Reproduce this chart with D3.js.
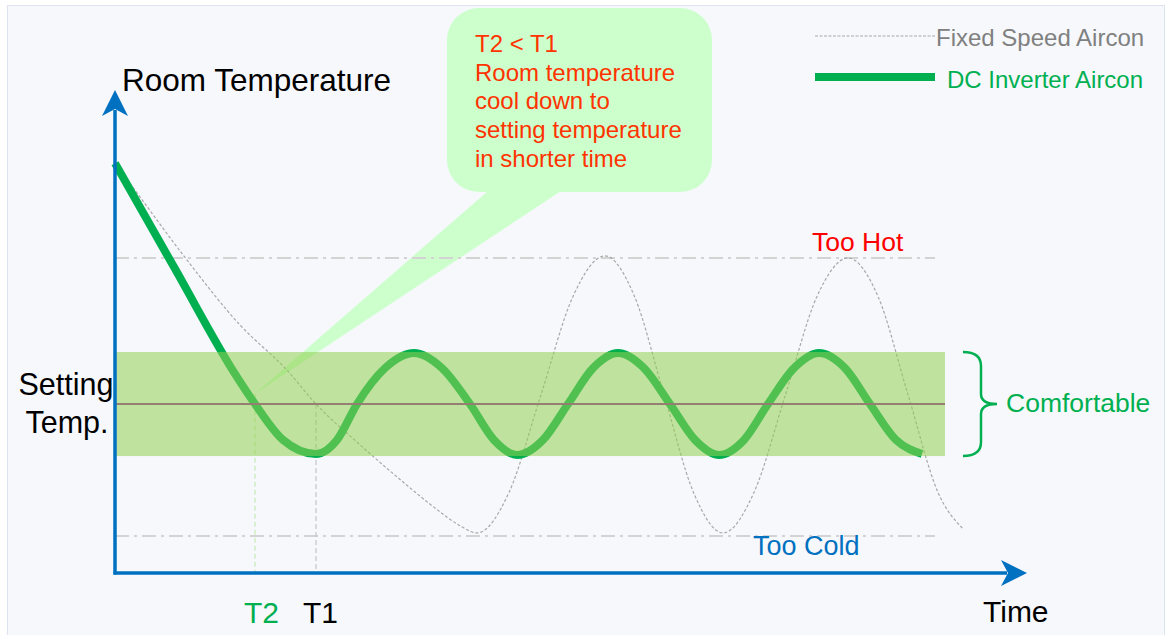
<!DOCTYPE html>
<html>
<head>
<meta charset="utf-8">
<script src="https://cdn.jsdelivr.net/npm/d3@7"></script>
<style>
  html, body { margin: 0; padding: 0; background: #ffffff; }
  svg { display: block; font-family: "Liberation Sans", Arial, sans-serif; }
</style>
</head>
<body>
<svg id="chart" width="1172" height="635"></svg>
<script>
// ---------------- DATA ----------------
// DC inverter aircon (time in minutes, room temperature in °C)
const inverterTime = [0, 6, 12, 14, 16.8, 20.1, 22.2, 24.2, 27.0, 29.9, 32.7, 35.5, 37.9, 40.2, 42.8, 45.3, 47.8, 50.3, 52.9, 55.5, 58.0, 60.4, 62.9, 65.3, 67.9, 70.4, 73.0, 75.5, 78.1, 80.7];
const inverterTemp = [29.63, 27.6, 25.58, 25.0, 24.31, 24.04, 24.31, 25.0, 25.69, 25.98, 25.69, 25.0, 24.31, 24.02, 24.31, 25.0, 25.69, 25.98, 25.69, 25.0, 24.31, 24.02, 24.31, 25.0, 25.69, 25.98, 25.69, 25.0, 24.31, 24.04];
// Fixed speed aircon
const fixedTime = [0, 2.2, 6.8, 12.5, 17.2, 20.1, 24.3, 28.5, 32.0, 34.5, 36.2, 39.4, 42.6, 45.8, 49.0, 51.95, 54.9, 57.85, 60.8, 63.9, 67.05, 70.2, 73.3, 76.3, 79.3, 82.3, 84.8];
const fixedTemp = [29.63, 29.06, 27.87, 26.52, 25.65, 25.0, 24.25, 23.55, 23.0, 22.66, 22.52, 23.30, 25.18, 27.07, 27.85, 27.07, 25.18, 23.30, 22.52, 23.30, 25.18, 27.07, 27.81, 27.07, 25.18, 23.30, 22.60];
// reference levels
const settingTemp = 25;
const comfortBand = [24, 26];
const tooHotTemp = 27.81;
const tooColdTemp = 22.46;
const bandEndTime = 83;
const limitEndTime = 82;
// time markers
const markerLabels = ["T2", "T1"];
const markerTimes = [14, 20.1];
const markerColors = ["#00b050", "#000000"];
// legend
const legendLabels = ["Fixed Speed Aircon", "DC Inverter Aircon"];
// callout text
const calloutLines = ["T2 < T1", "Room temperature", "cool down to", "setting temperature", "in shorter time"];

// ---------------- CHART ----------------
const svg = d3.select("#chart");

const x = d3.scaleLinear().domain([0, 91.2]).range([115, 1027]);
const y = d3.scaleLinear().domain([21.75, 31.04]).range([573, 90]);

// frame background
svg.append("rect").attr("x", 7.5).attr("y", 5.5).attr("width", 1157).attr("height", 650)
  .attr("fill", "#f6f8fc").attr("stroke", "#dde4ef").attr("stroke-width", 1);

// callout bubble + tail
const tipX = x(markerTimes[0]), tipY = y(25.2);
svg.append("path")
  .attr("d", `M${tipX},${tipY} L488,191 L561,191 Z`)
  .attr("fill", "#ccffcc");
svg.append("rect").attr("x", 447).attr("y", 8).attr("width", 265).attr("height", 184)
  .attr("rx", 32).attr("ry", 32).attr("fill", "#ccffcc");

// too hot / too cold limit lines
[tooHotTemp, tooColdTemp].forEach(v => {
  svg.append("line")
    .attr("x1", x(0)).attr("x2", x(limitEndTime))
    .attr("y1", y(v)).attr("y2", y(v))
    .attr("stroke", "#d3d3d3").attr("stroke-width", 2)
    .attr("stroke-dasharray", "14,5,3,5");
});

// marker verticals
svg.append("line")
  .attr("x1", x(markerTimes[0])).attr("x2", x(markerTimes[0]))
  .attr("y1", tipY).attr("y2", y(21.75))
  .attr("stroke", "#c8ecb8").attr("stroke-width", 1.2).attr("stroke-dasharray", "5,3");
svg.append("line")
  .attr("x1", x(markerTimes[1])).attr("x2", x(markerTimes[1]))
  .attr("y1", y(settingTemp)).attr("y2", y(21.75))
  .attr("stroke", "#c6c6c6").attr("stroke-width", 1.2).attr("stroke-dasharray", "5,3");

const line = d3.line().x(d => x(d[0])).y(d => y(d[1])).curve(d3.curveMonotoneX);

// fixed speed curve
svg.append("path")
  .datum(fixedTime.map((t, i) => [t, fixedTemp[i]]))
  .attr("d", line)
  .attr("fill", "none").attr("stroke", "#a8a8a8").attr("stroke-width", 1.2)
  .attr("stroke-dasharray", "3,2");

// inverter curve
svg.append("path")
  .datum(inverterTime.map((t, i) => [t, inverterTemp[i]]))
  .attr("d", line)
  .attr("fill", "none").attr("stroke", "#00b050").attr("stroke-width", 8)
  .attr("stroke-linejoin", "round");

// comfortable band (semi transparent, over the curves)
svg.append("rect")
  .attr("x", x(0)).attr("width", x(bandEndTime) - x(0))
  .attr("y", y(comfortBand[1])).attr("height", y(comfortBand[0]) - y(comfortBand[1]))
  .attr("fill", "#92d050").attr("fill-opacity", 0.55);

// setting temperature line
svg.append("line")
  .attr("x1", x(0)).attr("x2", x(bandEndTime))
  .attr("y1", y(settingTemp)).attr("y2", y(settingTemp))
  .attr("stroke", "#977e73").attr("stroke-width", 2);

// axes
const axisColor = "#0070c0";
const xAxis = d3.axisBottom(x)
  .tickValues(markerTimes)
  .tickFormat((d, i) => markerLabels[i])
  .tickSize(0).tickSizeOuter(0).tickPadding(29);
const gx = svg.append("g").attr("transform", `translate(0,${y(21.75)})`).call(xAxis);
gx.select(".domain").attr("stroke", axisColor).attr("stroke-width", 3.5)
  .attr("d", `M${x(0) - 1.5},0H${x(91.2) - 20}`);
gx.selectAll(".tick text")
  .attr("font-size", 30)
  .attr("font-family", "Liberation Sans, Arial, sans-serif")
  .attr("fill", (d, i) => markerColors[i])
  .attr("dx", (d, i) => i === 0 ? 6 : 4);

const yAxis = d3.axisLeft(y).tickValues([]).tickSizeOuter(0);
const gy = svg.append("g").attr("transform", `translate(${x(0)},0)`).call(yAxis);
gy.select(".domain").attr("stroke", axisColor).attr("stroke-width", 3.5)
  .attr("d", `M0,${y(21.75) + 1.5}V${y(31.04) + 20}`);

// arrow heads
const xt = x(91.2), yb = y(21.75), x0 = x(0), yt = y(31.04);
svg.append("path")
  .attr("d", `M${xt},${yb} L${xt - 26},${yb - 13} L${xt - 19},${yb} L${xt - 26},${yb + 13} Z`)
  .attr("fill", axisColor);
svg.append("path")
  .attr("d", `M${x0},${yt} L${x0 - 13},${yt + 26} L${x0},${yt + 19} L${x0 + 13},${yt + 26} Z`)
  .attr("fill", axisColor);

// axis titles
svg.append("text").attr("x", 122).attr("y", 91).attr("font-size", 31.5).attr("fill", "#000")
  .text("Room Temperature");
svg.append("text").attr("x", 983).attr("y", 622).attr("font-size", 30).attr("fill", "#000")
  .text("Time");
svg.append("text").attr("x", 66).attr("y", 395).attr("font-size", 30.5).attr("text-anchor", "middle")
  .attr("fill", "#000").text("Setting");
svg.append("text").attr("x", 67).attr("y", 433).attr("font-size", 30.5).attr("text-anchor", "middle")
  .attr("fill", "#000").text("Temp.");

// limit labels
svg.append("text").attr("x", 812).attr("y", y(tooHotTemp) - 7).attr("font-size", 26.5)
  .attr("fill", "#ff0000").text("Too Hot");
svg.append("text").attr("x", 753).attr("y", y(tooColdTemp) + 19).attr("font-size", 27)
  .attr("fill", "#0070c0").text("Too Cold");

// comfortable bracket
const bx = x(bandEndTime) + 18, yTop = y(comfortBand[1]), yBot = y(comfortBand[0]), yMid = y(settingTemp);
const sx = bx + 18;
svg.append("path")
  .attr("d", `M${bx},${yTop} Q${sx},${yTop} ${sx},${yTop + 14} L${sx},${yMid - 10} Q${sx},${yMid} ${sx + 16},${yMid} Q${sx},${yMid} ${sx},${yMid + 10} L${sx},${yBot - 14} Q${sx},${yBot} ${bx},${yBot}`)
  .attr("fill", "none").attr("stroke", "#00b050").attr("stroke-width", 2.5);
svg.append("text").attr("x", 1006).attr("y", yMid + 8).attr("font-size", 26.5)
  .attr("fill", "#00b050").text("Comfortable");

// callout text
calloutLines.forEach((t, i) => {
  svg.append("text").attr("x", 475).attr("y", 52 + i * 28.7)
    .attr("font-size", 24).attr("fill", "#ff3300").text(t);
});

// legend
svg.append("line").attr("x1", 815).attr("x2", 935).attr("y1", 36).attr("y2", 36)
  .attr("stroke", "#a8a8a8").attr("stroke-width", 1).attr("stroke-dasharray", "3,1.5");
svg.append("text").attr("x", 936).attr("y", 46).attr("font-size", 24).attr("fill", "#808080")
  .text(legendLabels[0]);
svg.append("line").attr("x1", 815).attr("x2", 935).attr("y1", 77).attr("y2", 77)
  .attr("stroke", "#00b050").attr("stroke-width", 8);
svg.append("text").attr("x", 947).attr("y", 88).attr("font-size", 24).attr("fill", "#00b050")
  .text(legendLabels[1]);
</script>
</body>
</html>
